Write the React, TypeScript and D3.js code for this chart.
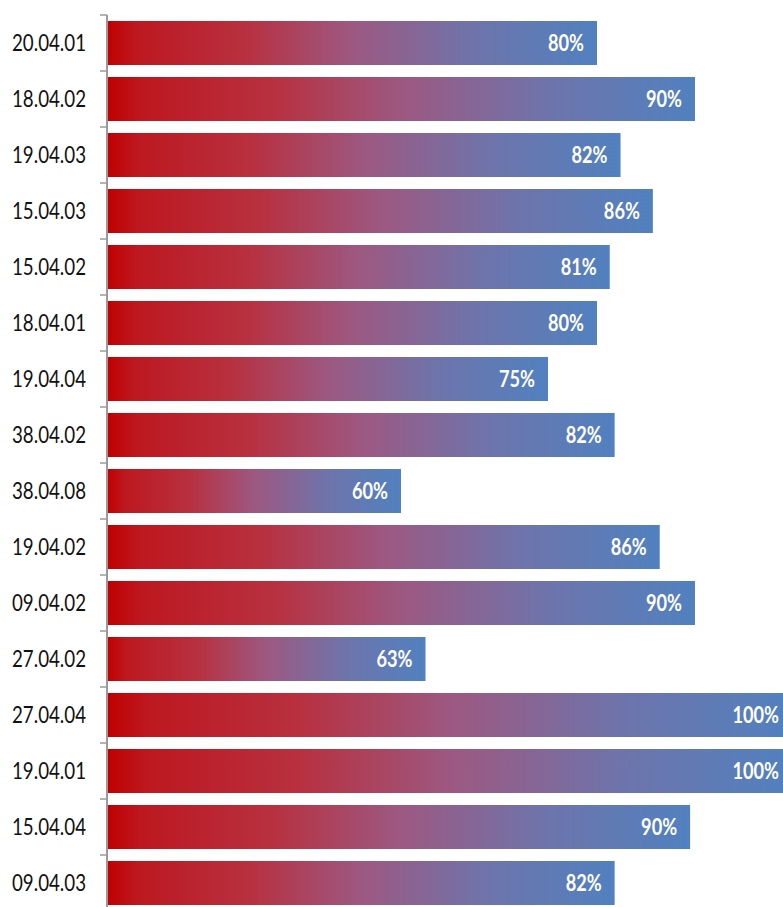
import { useRef, useEffect } from 'react';
import * as d3 from 'd3';

// ---------------------------------------------------------------------------
// Data
// ---------------------------------------------------------------------------
const CATEGORIES = [
  '20.04.01', '18.04.02', '19.04.03', '15.04.03', '15.04.02', '18.04.01',
  '19.04.04', '38.04.02', '38.04.08', '19.04.02', '09.04.02', '27.04.02',
  '27.04.04', '19.04.01', '15.04.04', '09.04.03',
];
const VALUES = [
  80.0, 90.0, 82.4, 85.7, 81.3, 80.0,
  75.0, 81.8, 60.0, 86.4, 90.0, 62.5,
  100, 100, 89.5, 81.8,
];
const X_DOMAIN: [number, number] = [30, 100];

// ---------------------------------------------------------------------------
// Style
// ---------------------------------------------------------------------------
const WIDTH = 783;
const HEIGHT = 907;
const AXIS_COLOR = '#9a9a9a';
const LABEL_COLOR = '#111111';
const CAT_FONT = 'Lato, "Liberation Sans", sans-serif';
const VAL_FONT = 'Lato, "Liberation Sans", sans-serif';
const GRADIENT_STOPS = [
  { offset: '0%', color: '#c00000' },
  { offset: '6%', color: '#bd1820' },
  { offset: '28%', color: '#b8303f' },
  { offset: '50%', color: '#9d5881' },
  { offset: '75%', color: '#6e74ab' },
  { offset: '100%', color: '#5181bf' },
];

export default function App() {
  const svgRef = useRef<SVGSVGElement>(null);

  useEffect(() => {
    const svg = svgRef.current;
    if (!svg) return;

    const sel = d3.select(svg);
    sel.selectAll('*').remove();

    const axisX = 107;
    const top = 15;
    const step = 56;

    const y = d3
      .scaleBand<string>()
      .domain(CATEGORIES)
      .range([top, top + step * CATEGORIES.length])
      .paddingInner(0.214)
      .paddingOuter(0.107);

    // the 100% bars run a little past the right edge (chart is cropped)
    const x = d3.scaleLinear().domain(X_DOMAIN).range([axisX, 793]);

    // gradient per bar (bounding box)
    const grad = sel
      .append('defs')
      .append('linearGradient')
      .attr('id', 'barGrad')
      .attr('x1', '0%')
      .attr('x2', '100%')
      .attr('y1', '0%')
      .attr('y2', '0%');
    grad
      .selectAll('stop')
      .data(GRADIENT_STOPS)
      .join('stop')
      .attr('offset', (d) => d.offset)
      .attr('stop-color', (d) => d.color);

    const rows = CATEGORIES.map((c, i) => ({ cat: c, value: VALUES[i] }));

    // Bars
    sel
      .append('g')
      .selectAll('rect')
      .data(rows)
      .join('rect')
      .attr('x', x(X_DOMAIN[0]))
      .attr('y', (d) => y(d.cat)!)
      .attr('width', (d) => x(d.value) - x(X_DOMAIN[0]))
      .attr('height', y.bandwidth())
      .attr('fill', 'url(#barGrad)');

    // Value labels (condensed look)
    sel
      .append('g')
      .selectAll('text')
      .data(rows)
      .join('text')
      .attr('x', (d) => Math.min(x(d.value) - 13, WIDTH - 4))
      .attr('y', (d) => y(d.cat)! + y.bandwidth() / 2 + 8)
      .attr('text-anchor', 'end')
      .attr('fill', '#ffffff')
      .attr('font-family', VAL_FONT)
      .attr('font-weight', 'bold')
      .attr('font-size', '22px')
      .attr('lengthAdjust', 'spacingAndGlyphs')
      .attr('textLength', (d) => String(Math.round(d.value)).length * 10.5 + 15)
      .text((d) => `${Math.round(d.value)}%`);

    // Category axis
    const axis = d3.axisLeft(y).tickSize(0).tickPadding(0);
    const ag = sel
      .append('g')
      .attr('transform', `translate(${axisX},0)`)
      .call(axis);
    ag.select('.domain').remove();
    ag.selectAll('text')
      .attr('x', -21)
      .attr('dy', null)
      .attr('y', 8)
      .attr('text-anchor', 'end')
      .attr('fill', LABEL_COLOR)
      .attr('font-family', CAT_FONT)
      .attr('font-size', '23px')
      .attr('lengthAdjust', 'spacingAndGlyphs')
      .attr('textLength', 74);

    // Axis line and boundary ticks
    const yEnd = top + step * CATEGORIES.length;
    sel
      .append('line')
      .attr('x1', axisX)
      .attr('x2', axisX)
      .attr('y1', top)
      .attr('y2', yEnd)
      .attr('stroke', AXIS_COLOR)
      .attr('stroke-width', 2);

    const boundaries = d3.range(CATEGORIES.length + 1).map((i) => top + i * y.step());
    sel
      .append('g')
      .selectAll('line')
      .data(boundaries)
      .join('line')
      .attr('x1', axisX - 7)
      .attr('x2', axisX)
      .attr('y1', (d) => d)
      .attr('y2', (d) => d)
      .attr('stroke', AXIS_COLOR)
      .attr('stroke-width', 1.5);
  }, []);

  return (
    <svg
      ref={svgRef}
      width={WIDTH}
      height={HEIGHT}
      style={{ position: 'absolute', left: 0, top: 0, background: '#ffffff' }}
    />
  );
}
